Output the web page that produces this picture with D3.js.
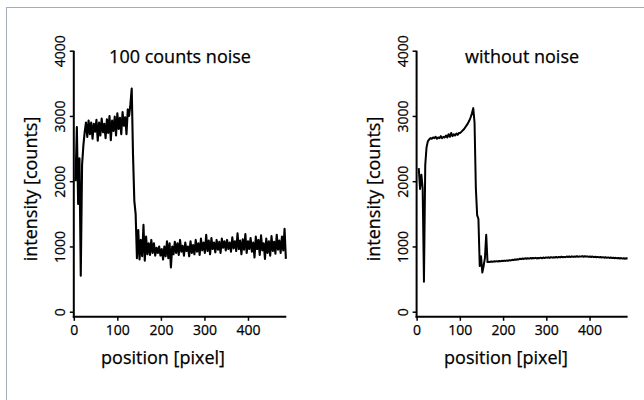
<!DOCTYPE html>
<html>
<head>
<meta charset="utf-8">
<script src="https://cdn.jsdelivr.net/npm/d3@7"></script>
<style>
  html, body { margin: 0; padding: 0; background: #fff; }
  svg { display: block; }
  text { font-family: "Open Sans", "Noto Sans", sans-serif; fill: #000; stroke: #000; stroke-width: 0.25px; }
</style>
</head>
<body>
<svg id="chart" width="644" height="400"></svg>
<script>
// ---- data ----
const panelTitles = ["100 counts noise", "without noise"];
const xAxisTitle = "position [pixel]";
const yAxisTitle = "intensity [counts]";
const xTicks = [0, 100, 200, 300, 400];
const yTicks = [0, 1000, 2000, 3000, 4000];
const xMax = 488;
const yMax = 4000;
const sampleStep = 3;
const noisyStart = 4;
const cleanStart = 5;

const noisyValues = [
  2000, 2830, 1650, 2350, 550, 2250, 2550, 2750, 2900, 2680,
  2930, 2720, 2900, 2650, 2880, 2760, 2940, 2620, 2900, 2700,
  2960, 2750, 2880, 2660, 2950, 2740, 3000, 2630, 2930, 2770,
  2990, 2700, 3040, 2800, 2970, 2720, 3060, 2850, 2980, 2720,
  3100, 3000, 3180, 3420, 2400, 1700, 1500, 820, 1250, 800,
  1100, 850, 1330, 780, 1150, 880, 1050, 870, 1100, 900,
  1050, 860, 980, 900, 1000, 860, 960, 800, 1000, 850,
  1080, 820, 1050, 680, 1000, 880, 1070, 900, 1050, 870,
  1100, 920, 1010, 860, 1060, 930, 1000, 850, 1080, 900,
  1020, 880, 1100, 920, 1050, 870, 1120, 940, 1060, 900,
  1180, 930, 1090, 880, 1130, 960, 1060, 910, 1100, 950,
  1070, 900, 1120, 980, 1080, 940, 1100, 960, 1060, 920,
  1140, 970, 1080, 930, 1200, 960, 1090, 880, 1110, 950,
  1190, 900, 1080, 960, 1130, 920, 1060, 830, 1150, 960,
  1100, 870, 1170, 940, 1050, 810, 1120, 900, 1080, 860,
  1160, 930, 1070, 890, 1180, 950, 1090, 900, 1150, 940,
  1270, 810
];

const cleanValues = [
  2200, 1880, 2100, 1900, 460, 2250, 2520, 2610, 2640, 2660,
  2650, 2670, 2660, 2680, 2650, 2670, 2660, 2690, 2660, 2680,
  2670, 2700, 2670, 2720, 2680, 2740, 2690, 2720, 2700, 2730,
  2710, 2740, 2740, 2760, 2780, 2800, 2830, 2860, 2890, 2930,
  2980, 3040, 3120, 2900, 1900, 1480, 1420, 700, 850, 600,
  700, 820, 1180, 760, 760, 765,
  770, 765, 772, 768, 775, 770, 778, 772, 780, 776,
  783, 778, 786, 781, 790, 785, 795, 790, 800, 796,
  805, 800, 812, 806, 815, 808, 818, 812, 820, 813,
  822, 815, 824, 818, 826, 816, 824, 820, 828, 818,
  830, 822, 832, 826, 834, 824, 836, 828, 835, 830,
  838, 829, 840, 832, 842, 834, 840, 836, 845, 838,
  846, 837, 848, 840, 846, 842, 850, 841, 848, 844,
  852, 842, 850, 845, 848, 840, 846, 838, 845, 836,
  842, 834, 840, 832, 838, 830, 836, 828, 834, 826,
  832, 824, 830, 822, 828, 820, 826, 818, 824, 816,
  822, 814, 820, 812, 818, 815
];

// ---- layout ----
const svg = d3.select("#chart");

// outer frame
svg.append("rect")
  .attr("x", 6.5).attr("y", 7.5)
  .attr("width", 700).attr("height", 500)
  .attr("fill", "none")
  .attr("stroke", "#a3adb8")
  .attr("stroke-width", 1);

const panels = [
  { title: panelTitles[0], values: noisyValues, start: noisyStart, x0: 73.8, x1: 286.3, lineWidth: 2.1, xTitleX: 163 },
  { title: panelTitles[1], values: cleanValues, start: cleanStart, x0: 416.6, x1: 627.6, lineWidth: 2.0, xTitleX: 506 }
];

const yTop = 50.7, yZero = 311.7, xAxisY = 316.8;

panels.forEach(p => {
  const g = svg.append("g");
  const x = d3.scaleLinear().domain([0, xMax]).range([p.x0, p.x1]);
  const y = d3.scaleLinear().domain([0, yMax]).range([yZero, yTop]);

  const pts = p.values.map((v, i) => [p.start + i * sampleStep, v]);

  // data line
  g.append("path")
    .datum(pts)
    .attr("fill", "none")
    .attr("stroke", "#000")
    .attr("stroke-width", p.lineWidth)
    .attr("stroke-linejoin", "round")
    .attr("d", d3.line().x(d => x(d[0])).y(d => y(d[1])));

  // y axis
  const ya = g.append("g")
    .attr("transform", `translate(${p.x0},0)`)
    .call(d3.axisLeft(y).tickValues(yTicks).tickSize(4).tickSizeOuter(0).tickFormat(d3.format("d")));
  ya.select(".domain").remove();
  ya.selectAll(".tick line").attr("stroke", "#000").attr("stroke-width", 1.5);
  ya.selectAll(".tick text")
    .attr("x", null).attr("dy", null)
    .attr("transform", "translate(-9,0) rotate(-90)")
    .attr("text-anchor", "middle")
    .attr("font-size", 14)
    .attr("font-family", null)
    .attr("fill", "#000");

  // x axis
  const xa = g.append("g")
    .attr("transform", `translate(0,${xAxisY})`)
    .call(d3.axisBottom(x).tickValues(xTicks).tickSize(4).tickSizeOuter(0).tickFormat(d3.format("d")));
  xa.select(".domain").remove();
  xa.selectAll(".tick line").attr("stroke", "#000").attr("stroke-width", 1.5);
  xa.selectAll(".tick text")
    .attr("y", 18).attr("dy", null)
    .attr("font-size", 14)
    .attr("font-family", null)
    .attr("fill", "#000");

  // axis lines
  g.append("line")
    .attr("x1", p.x0).attr("x2", p.x0)
    .attr("y1", yTop).attr("y2", xAxisY + 1)
    .attr("stroke", "#000").attr("stroke-width", 2);
  g.append("line")
    .attr("x1", p.x0 - 1).attr("x2", p.x1)
    .attr("y1", xAxisY).attr("y2", xAxisY)
    .attr("stroke", "#000").attr("stroke-width", 2);

  // titles
  g.append("text")
    .attr("x", (p.x0 + p.x1) / 2).attr("y", 63)
    .attr("text-anchor", "middle")
    .attr("font-size", 18)
    .text(p.title);

  g.append("text")
    .attr("x", p.xTitleX).attr("y", 364)
    .attr("text-anchor", "middle")
    .attr("font-size", 18)
    .text(xAxisTitle);

  g.append("text")
    .attr("transform", `translate(${p.x0 - 37},189) rotate(-90)`)
    .attr("text-anchor", "middle")
    .attr("font-size", 18)
    .text(yAxisTitle);
});
</script>
</body>
</html>
